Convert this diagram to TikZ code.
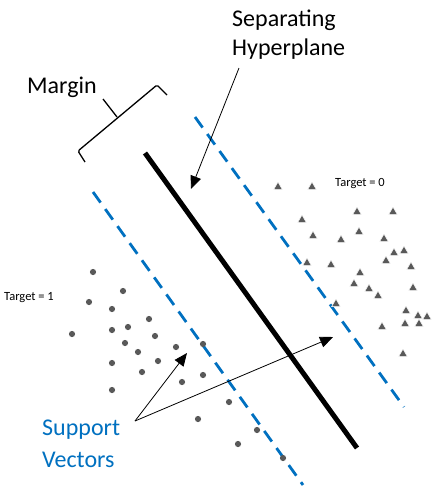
\documentclass[tikz,border=0pt]{standalone}
\usepackage{fontspec}
\setmainfont{Carlito}
\usetikzlibrary{arrows.meta,shapes.geometric}

\definecolor{svblue}{RGB}{0,112,192}
\definecolor{ptgray}{RGB}{89,89,89}

\tikzset{
  biglabel/.style={font=\fontsize{24}{29}\selectfont, inner sep=0pt, anchor=base west},
  smalllabel/.style={font=\fontsize{12.5}{15}\selectfont, inner sep=0pt, anchor=base west},
  hyperplane/.style={line width=5pt, black},
  marginline/.style={line width=2.8pt, svblue, dash pattern=on 13pt off 8pt},
  pointer/.style={line width=0.8pt, -{Triangle[length=13pt,width=11pt]}},
  bracket/.style={line width=1.3pt, rounded corners=1.5pt},
  dotpt/.style={circle, fill=ptgray, inner sep=0pt, minimum size=6.2pt},
  tript/.style={regular polygon, regular polygon sides=3, fill=ptgray, draw=white,
    line width=0.5pt, inner sep=0pt, minimum size=10pt},
}

\begin{document}
\begin{tikzpicture}[x=1pt, y=-1pt]
  \useasboundingbox (0,0) rectangle (434,490);

  % separating hyperplane and the two margin lines
  \coordinate (hpA) at (145,153);
  \coordinate (hpB) at (357,448);
  \coordinate (mlA) at (93,192);
  \coordinate (mlB) at (303,485);
  \coordinate (mrA) at (195,117);
  \coordinate (mrB) at (404,407);
  \draw[marginline] (mlA) -- (mlB);
  \draw[marginline] (mrA) -- (mrB);
  \draw[hyperplane] (hpA) -- (hpB);

  % margin bracket
  \coordinate (brL) at (85,162);
  \coordinate (brLc) at (78,151);
  \coordinate (brRc) at (157,85);
  \coordinate (brR) at (167,95);
  \coordinate (brM) at (117,117);
  \coordinate (brT) at (103,99);
  \draw[bracket] (brL) -- (brLc) -- (brRc) -- (brR);
  \draw[bracket] (brM) -- (brT);

  % labels
  \node[biglabel] (margin) at (27,93) {Margin};
  \node[biglabel] (sep1) at (232,26) {Separating};
  \node[biglabel] (sep2) at (232,55) {Hyperplane};
  \node[biglabel, text=svblue] (sv1) at (42,435) {Support};
  \node[biglabel, text=svblue] (sv2) at (42,467) {Vectors};
  \node[smalllabel] (t0) at (335,186) {Target = 0};
  \node[smalllabel] (t1) at (4,300) {Target = 1};

  % class 1 points
  \foreach \x/\y [count=\i] in {93/272,123/291,89/302,112/309,149/319,72/334,112/330,128/327,
      155/336,125/343,138/352,176/347,203/344,112/363,158/361,142/372,203/375,182/382,
      112/390,229/402,198/419,257/430,238/444,283/458}
    \node[dotpt] (c\i) at (\x,\y) {};

  % class 0 points
  \foreach \x/\y [count=\i] in {278/187,312/187,357/212,393/212,302/220,313/236,341/240,359/232,
      384/239,394/253,404/251,386/261,307/263,331/265,360/273,411/267,354/284,369/289,
      378/296,413/288,336/304,406/311,418/316,427/317,382/327,405/324,419/324,403/354}
    \node[tript] (s\i) at (\x,\y) {};

  % pointers
  \coordinate (hpArrowStart) at (239,68);
  \coordinate (hpArrowTip) at (191,189);
  \draw[pointer] (hpArrowStart) -- (hpArrowTip);

  \coordinate (svOrigin) at (135,421);
  \coordinate (svTipA) at (187,353);
  \coordinate (svTipB) at (333,337);
  \draw[pointer] (svOrigin) -- (svTipA);
  \draw[pointer] (svOrigin) -- (svTipB);
\end{tikzpicture}
\end{document}
